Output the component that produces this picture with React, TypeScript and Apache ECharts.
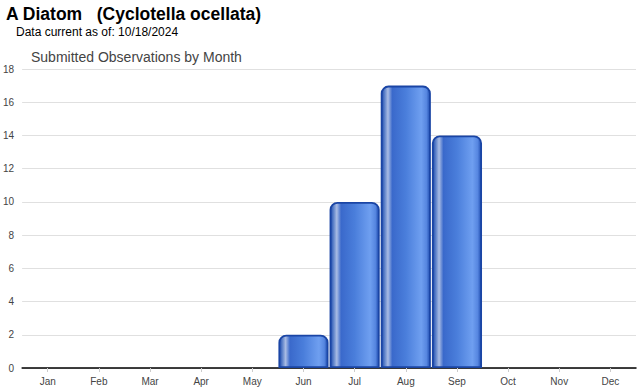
import React, { useEffect, useRef } from "react";
import * as echarts from "echarts";

const months = ["Jan", "Feb", "Mar", "Apr", "May", "Jun", "Jul", "Aug", "Sep", "Oct", "Nov", "Dec"];
const observations = [0, 0, 0, 0, 0, 2, 10, 17, 14, 0, 0, 0];
const titleText = "A Diatom   (Cyclotella ocellata)";
const currentText = "Data current as of: 10/18/2024";
const chartSubtitle = "Submitted Observations by Month";

export default function App() {
  const ref = useRef<HTMLDivElement>(null);
  useEffect(() => {
    if (!ref.current) return;
    const chart = echarts.init(ref.current, null, { renderer: "svg" });
    const barFill = new echarts.graphic.LinearGradient(0, 0, 1, 0, [
      { offset: 0, color: "#1d4aad" },
      { offset: 0.06, color: "#5a7fc8" },
      { offset: 0.13, color: "#a9bce4" },
      { offset: 0.22, color: "#3a69cb" },
      { offset: 0.5, color: "#4a7edb" },
      { offset: 0.82, color: "#6f9ff0" },
      { offset: 0.93, color: "#5686e0" },
      { offset: 1, color: "#1f4db0" },
    ]);
    chart.setOption({
      animation: false,
      backgroundColor: "#ffffff",
      title: [
        {
          text: titleText,
          left: 6,
          top: 5,
          padding: 0,
          textStyle: { fontFamily: "Liberation Sans, Arial, sans-serif", fontSize: 17.5, fontWeight: "bold", color: "#000" },
        },
        {
          text: currentText,
          left: 16,
          top: 26,
          padding: 0,
          textStyle: { fontFamily: "Liberation Sans, Arial, sans-serif", fontSize: 12, fontWeight: "normal", color: "#000" },
        },
        {
          text: chartSubtitle,
          left: 31,
          top: 50,
          padding: 0,
          textStyle: { fontFamily: "Liberation Sans, Arial, sans-serif", fontSize: 14, fontWeight: "normal", color: "#444" },
        },
      ],
      grid: { left: 22, right: 4, top: 69, bottom: 22, containLabel: false },
      xAxis: {
        type: "category",
        data: months,
        axisLine: { lineStyle: { color: "#000", width: 1.5 } },
        axisTick: { show: true, alignWithLabel: true, length: 4, lineStyle: { color: "#ccc" } },
        axisLabel: { fontFamily: "Liberation Sans, Arial, sans-serif", fontSize: 10, color: "#444", margin: 8 },
      },
      yAxis: {
        type: "value",
        min: 0,
        max: 18,
        interval: 2,
        axisLine: { show: false },
        axisTick: { show: false },
        axisLabel: { fontFamily: "Liberation Sans, Arial, sans-serif", fontSize: 10, color: "#444", margin: 8 },
        splitLine: { lineStyle: { color: "#e0e0e0", width: 1 } },
      },
      series: [
        {
          type: "bar",
          data: observations.map((v) => (v === 0 ? "-" : v)),
          barCategoryGap: "2%",
          z: 1,
          itemStyle: {
            color: barFill,
            borderColor: "#1a45a5",
            borderWidth: 1.8,
            borderRadius: [7, 7, 0, 0],
          },
        },
      ],
    });
    return () => chart.dispose();
  }, []);
  return <div ref={ref} style={{ width: 640, height: 390, position: "absolute", left: 0, top: 0 }} />;
}
